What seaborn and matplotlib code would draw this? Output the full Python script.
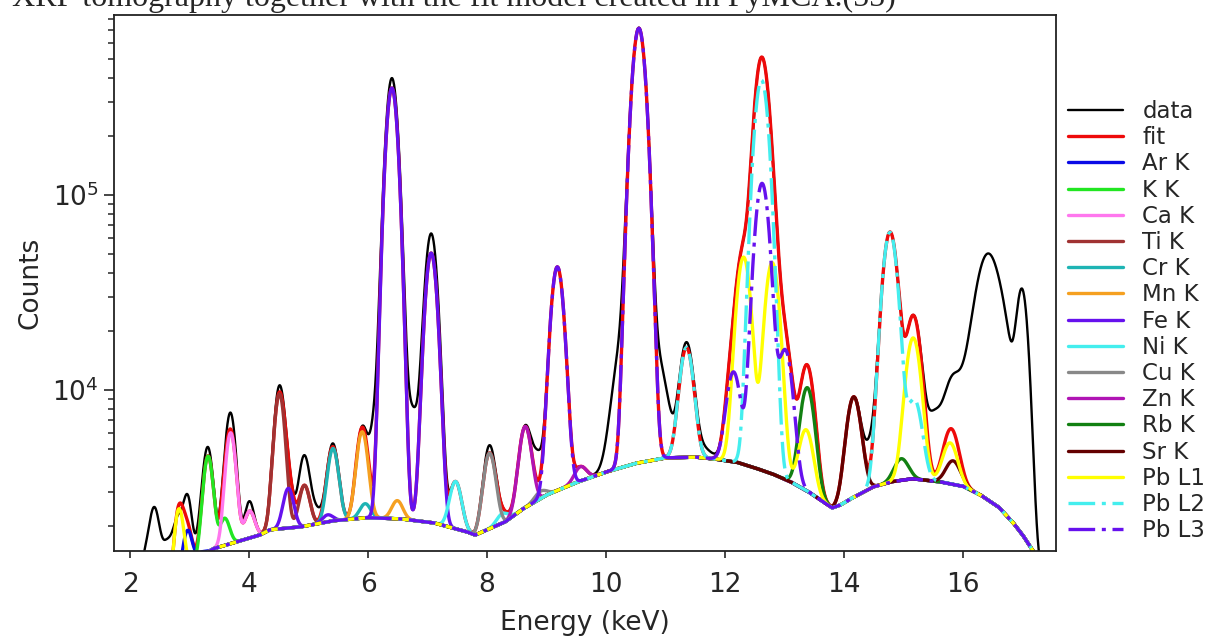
import numpy as np
import seaborn as sns
import matplotlib.pyplot as plt

# continuum under the peaks (keV, counts)
bg_keV = [1.7, 2.0, 2.4, 2.6, 2.8, 3.0, 3.2, 3.4, 3.73, 4.18, 4.35, 4.86, 5.41, 5.98,
          6.54, 7.1, 7.66, 7.8, 8.3, 8.6, 9.0, 9.5, 10.0, 10.5, 11.0, 11.5, 11.8,
          12.2, 12.5, 12.8, 13.1, 13.4, 13.8, 13.93, 14.1, 14.49, 14.8, 15.14, 15.6,
          16.0, 16.29, 16.6, 16.84, 17.0, 17.17, 17.4, 17.6]
bg_cts = [150, 200, 450, 700, 1000, 1250, 1400, 1530, 1640, 1800, 1915, 1980, 2130, 2210,
          2180, 2080, 1870, 1800, 2100, 2450, 2890, 3350, 3790, 4200, 4480, 4520, 4430,
          4250, 3980, 3700, 3375, 3000, 2480, 2560, 2750, 3180, 3380, 3500, 3380,
          3200, 2890, 2500, 2080, 1800, 1500, 1000, 700]

# fitted lines: energy (keV) and height above the continuum (counts)
ar_keV, ar_cts = [2.96, 3.19], [700, 70]
k_keV, k_cts = [3.31, 3.59], [3100, 600]
ca_keV, ca_cts = [3.69, 4.01], [4400, 650]
ti_keV, ti_cts = [4.51, 4.93], [7600, 1240]
cr_keV, cr_cts = [5.41, 5.95], [2880, 400]
mn_keV, mn_cts = [5.90, 6.49], [3900, 520]
fe_keV, fe_cts = [4.66, 5.32, 6.40, 7.06], [1170, 180, 352000, 48300]
ni_keV, ni_cts = [7.47, 8.26], [1450, 250]
cu_keV, cu_cts = [8.04, 8.90], [2800, 250]
zn_keV, zn_cts = [8.64, 9.57], [4000, 630]
rb_keV, rb_cts = [13.38, 14.96], [7250, 1000]
sr_keV, sr_cts = [14.16, 15.83], [6400, 1050]
pbl1_keV = [2.82, 12.31, 12.79, 13.36, 15.16, 15.78]
pbl1_cts = [1430, 43900, 41300, 3200, 15000, 2050]
pbl2_keV, pbl2_cts = [11.35, 12.61, 14.77, 15.18], [12000, 385000, 61000, 5400]
pbl3_keV = [9.18, 10.55, 12.14, 12.62, 13.01]
pbl3_cts = [39750, 714000, 8100, 111000, 12500]

# where the measured spectrum departs from the fit: keV, counts, width (keV)
resid_keV = [2.35, 2.41, 2.65, 2.83, 2.97, 3.25, 3.69, 4.00, 4.51, 4.92, 5.10, 5.41,
             6.12, 6.40, 6.74, 7.06, 8.04, 8.85, 10.30, 10.85, 11.35, 11.60, 14.45,
             15.50, 15.90, 16.42, 16.72, 16.99]
resid_cts = [1300, 800, 450, -430, 800, 600, 1350, 300, 800, 1300, 400, 200,
             4000, 44000, 5500, 13000, 450, 1500, 14000, 10000, 900, 600, 1800,
             3300, 5500, 47000, 6000, 30000]
resid_wid = [0.20, 0.07, 0.08, 0.06, 0.06, 0.10, 0.08, 0.06, 0.08, 0.08, 0.10, 0.08,
             0.08, 0.11, 0.12, 0.10, 0.08, 0.09, 0.15, 0.15, 0.10, 0.15, 0.10,
             0.12, 0.20, 0.20, 0.12, 0.09]

names = ['Ar K', 'K K', 'Ca K', 'Ti K', 'Cr K', 'Mn K', 'Fe K', 'Ni K', 'Cu K',
         'Zn K', 'Rb K', 'Sr K', 'Pb L1', 'Pb L2', 'Pb L3']
lines = [(ar_keV, ar_cts), (k_keV, k_cts), (ca_keV, ca_cts), (ti_keV, ti_cts),
         (cr_keV, cr_cts), (mn_keV, mn_cts), (fe_keV, fe_cts), (ni_keV, ni_cts),
         (cu_keV, cu_cts), (zn_keV, zn_cts), (rb_keV, rb_cts), (sr_keV, sr_cts),
         (pbl1_keV, pbl1_cts), (pbl2_keV, pbl2_cts), (pbl3_keV, pbl3_cts)]
colors = ['#0a0ae6', '#22e622', '#ff77ee', '#a03232', '#1eb4b4', '#f5a020', '#6611ee',
          '#44eeee', '#888888', '#b014b4', '#128012', '#640000', '#ffff00', '#44eeee',
          '#6611ee']

energy = np.arange(1.70, 17.60, 0.004)
background = 10 ** np.interp(energy, bg_keV, np.log10(bg_cts))


def peaks(keV, cts, wid=None):
    out = np.zeros_like(energy)
    for i, (e, h) in enumerate(zip(keV, cts)):
        s = np.sqrt(0.004 + 0.0006 * e) if wid is None else wid[i]
        out += h * np.exp(-(energy - e) ** 2 / (2 * s ** 2))
    return out


parts = [peaks(kv, ct) for kv, ct in lines]
fit = background + np.sum(parts, axis=0)
data = fit + peaks(resid_keV, resid_cts, resid_wid)

sns.set_style('ticks')
plt.rcParams['font.family'] = ['DejaVu Sans']
plt.rcParams['mathtext.fontset'] = 'dejavusans'

fig = plt.figure(figsize=(12.2, 6.37), dpi=100)
ax = fig.add_axes([114 / 1220, 1 - 551 / 637, (1056 - 114) / 1220, (551 - 15) / 637])

dash = (0, (8, 2, 1.2, 2))
sns.lineplot(x=energy, y=data, ax=ax, color='black', lw=1.7, label='data',
             estimator=None, sort=False, legend=False)
sns.lineplot(x=energy, y=fit, ax=ax, color='#ee0a0a', lw=2.4, label='fit',
             estimator=None, sort=False, legend=False)
for name, part, c in zip(names, parts, colors):
    ls = dash if name in ('Pb L2', 'Pb L3') else '-'
    sns.lineplot(x=energy, y=background + part, ax=ax, color=c, lw=2.4, ls=ls,
                 label=name, estimator=None, sort=False, legend=False)

ax.set_yscale('log')
ax.set_xlim(1.73, 17.56)
ax.set_ylim(1490, 8.4e5)
ax.set_xticks(range(2, 17, 2))
ax.set_xlabel('Energy (keV)', fontsize=19, labelpad=9)
ax.set_ylabel('Counts', fontsize=19, labelpad=6)
ax.tick_params(axis='x', which='major', labelsize=19, length=5, width=1.2,
               direction='out', pad=10)
ax.tick_params(axis='y', which='major', labelsize=19, length=7, width=1.2,
               direction='out', pad=4)
ax.tick_params(axis='y', which='minor', length=4, width=1.1)
ax.tick_params(axis='x', which='minor', bottom=False)
for sp in ax.spines.values():
    sp.set_linewidth(1.3)
    sp.set_color('#222222')

handles = ax.get_lines()
ax.legend(handles=handles, labels=[h.get_label() for h in handles],
          loc='upper left', bbox_to_anchor=(1068 / 1220, 1 - 100 / 637),
          bbox_transform=fig.transFigure, frameon=False, fontsize=16.5,
          labelspacing=0.14, handlelength=2.4, handletextpad=0.85,
          borderpad=0, borderaxespad=0)

fig.text(12 / 1220, 1 - 6 / 637,
         'XRF tomography together with the fit model created in PyMCA.(55)',
         fontsize=23, family=['Liberation Serif'], va='baseline', ha='left')

fig.savefig('out.png', dpi=100)
